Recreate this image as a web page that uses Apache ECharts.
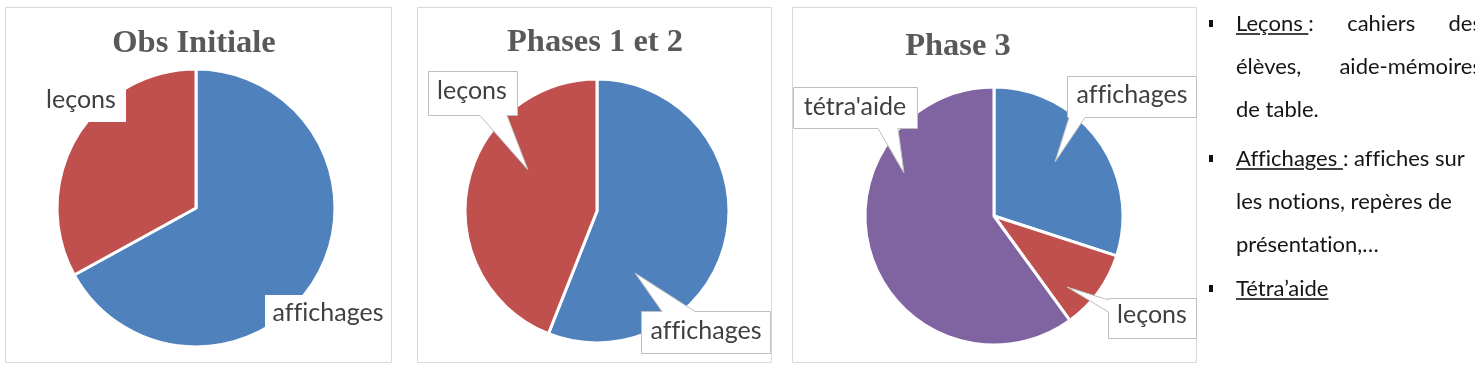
<!DOCTYPE html>
<html>
<head>
<meta charset="utf-8">
<script src="https://cdn.jsdelivr.net/npm/echarts@6/dist/echarts.min.js"></script>
<style>
  html, body { margin: 0; padding: 0; background: #fff; overflow: hidden; }
  #main { position: absolute; left: 0; top: 0; width: 1475px; height: 372px; }
  #notes { position: absolute; left: 0; top: 0; width: 1475px; height: 372px; overflow: hidden;
           font-family: Lato, sans-serif; font-size: 22px; color: #151515; pointer-events: none;
           font-variant-ligatures: none; }
  .line { position: absolute; left: 1236px; white-space: nowrap; line-height: 30px; height: 30px; }
  .just { width: 246px; white-space: normal; text-align: justify; text-align-last: justify; }
  .keep { display: inline-block; }
  .bullet { position: absolute; left: 1209px; width: 4px; height: 7px; background: #111; }
  u { text-decoration-thickness: 1.5px; text-decoration-color: #444; text-underline-offset: 2px; }
</style>
</head>
<body>
<div id="main"></div>
<div id="notes">
  <div class="bullet" style="top:20px"></div>
  <div class="line just" style="top:8px"><span class="keep"><u>Leçons&nbsp;</u>:</span> cahiers des</div>
  <div class="line just" style="top:51px">élèves, aide-mémoires</div>
  <div class="line" style="top:94px">de table.</div>
  <div class="bullet" style="top:155px"></div>
  <div class="line" style="top:143px"><u>Affichages&nbsp;</u>: affiches sur</div>
  <div class="line" style="top:186px">les notions, repères de</div>
  <div class="line" style="top:229px">présentation,…</div>
  <div class="bullet" style="top:285px"></div>
  <div class="line" style="top:273px"><u>Tétra’aide</u></div>
</div>
<script>
// 标题
const panelTitles = ['Obs Initiale', 'Phases 1 et 2', 'Phase 3']

// Obs Initiale
const obsNames = ['affichages', 'leçons']
const obsValues = [67, 33]

// Phases 1 et 2
const phase12Names = ['affichages', 'leçons']
const phase12Values = [56, 44]

// Phase 3
const phase3Names = ['affichages', 'leçons', "tétra'aide"]
const phase3Values = [30, 10, 60]

const sliceColors = ['#4F81BD', '#C0504D', '#8064A2']

// 每个图的位置 (cadre, centre, rayon, bulles)
const panels = [
  {
    title: panelTitles[0], names: obsNames, values: obsValues,
    frame: [5.5, 7.5, 386, 355], titleAt: [194, 44],
    center: [196, 208], radius: 139,
    callouts: [
      { box: [265, 295, 125, 40], text: [328, 313], border: false },
      { box: [36, 88, 90, 34], text: [81, 100], border: false }
    ]
  },
  {
    title: panelTitles[1], names: phase12Names, values: phase12Values,
    frame: [417.5, 7.5, 354, 355], titleAt: [595, 42.5],
    center: [597, 211], radius: 132,
    callouts: [
      { box: [641.5, 311.5, 129, 42], text: [706, 331], border: true, side: 'top', base: [662, 695], tip: [635, 273] },
      { box: [428.5, 71.5, 89, 44], text: [472, 91], border: true, side: 'bottom', base: [480, 507], tip: [528, 170] }
    ]
  },
  {
    title: panelTitles[2], names: phase3Names, values: phase3Values,
    frame: [792.5, 7.5, 404, 355], titleAt: [958, 46.5],
    center: [994, 216], radius: 129,
    callouts: [
      { box: [1067.5, 76.5, 129, 41], text: [1132, 95], border: true, side: 'bottom', base: [1069, 1085], tip: [1055, 162] },
      { box: [1108.5, 298.5, 88, 40], text: [1152, 315], border: true, side: 'left', base: [300, 312], tip: [1067, 287] },
      { box: [793.5, 87.5, 124, 41], text: [855, 107], border: true, side: 'bottom', base: [878, 898], tip: [904, 173] }
    ]
  }
]

/**
 * 气泡轮廓 : rectangle + pointe
 */
function calloutPoints(c) {
  const [x, y, w, h] = c.box
  const pts = [[x, y]]
  if (c.side === 'top') pts.push([c.base[0], y], c.tip, [c.base[1], y])
  pts.push([x + w, y], [x + w, y + h])
  if (c.side === 'bottom') pts.push([c.base[1], y + h], c.tip, [c.base[0], y + h])
  pts.push([x, y + h])
  if (c.side === 'left') pts.push([x, c.base[1]], c.tip, [x, c.base[0]])
  return pts
}

const series = []
const graphic = []

panels.forEach((panel, p) => {
  const data = panel.names.map((name, i) => ({
    name: name,
    value: panel.values[i],
    itemStyle: { color: sliceColors[i] }
  }))

  graphic.push({
    type: 'rect', z: 0, silent: true,
    shape: { x: panel.frame[0], y: panel.frame[1], width: panel.frame[2], height: panel.frame[3] },
    style: { fill: '#fff', stroke: '#d9d9d9', lineWidth: 1 }
  })
  graphic.push({
    type: 'text', z: 5, silent: true,
    x: panel.titleAt[0], y: panel.titleAt[1],
    style: {
      text: panel.title, fill: '#595959',
      font: 'bold 32.5px "Liberation Serif"',
      align: 'center', verticalAlign: 'middle',
      textAlign: 'center', textVerticalAlign: 'middle'
    }
  })
  panel.callouts.forEach(c => {
    graphic.push({
      type: 'polygon', z: 5, silent: true,
      shape: { points: calloutPoints(c) },
      style: { fill: '#fff', stroke: c.border ? '#bfbfbf' : null, lineWidth: 1 }
    })
  })

  // les parts
  series.push({
    type: 'pie', z: 2, silent: true, animation: false,
    center: panel.center, radius: panel.radius,
    startAngle: 90, clockwise: true,
    data: data,
    label: { show: false },
    labelLine: { show: false },
    itemStyle: { borderColor: '#fff', borderWidth: 3 },
    emphasis: { disabled: true }
  })

  // les étiquettes, au-dessus des bulles
  series.push({
    type: 'pie', z: 10, silent: true, animation: false,
    center: panel.center, radius: panel.radius,
    startAngle: 90, clockwise: true,
    avoidLabelOverlap: false,
    data: data.map(d => ({ name: d.name, value: d.value })),
    itemStyle: { color: 'rgba(0,0,0,0)', borderWidth: 0 },
    label: {
      show: true, position: 'outside',
      // pas de ligature "ffi"
      formatter: params => params.name.replace(/f/g, 'f\u200C'),
      fontFamily: 'Lato', fontSize: 25, color: '#404040'
    },
    labelLine: { show: false },
    labelLayout(params) {
      const c = panel.callouts[params.dataIndex]
      return { x: c.text[0], y: c.text[1], align: 'center', verticalAlign: 'middle' }
    },
    emphasis: { disabled: true }
  })
})

const chart = echarts.init(document.getElementById('main'))
chart.setOption({
  backgroundColor: '#fff',
  animation: false,
  tooltip: { show: false },
  graphic: graphic,
  series: series
})
</script>
</body>
</html>
